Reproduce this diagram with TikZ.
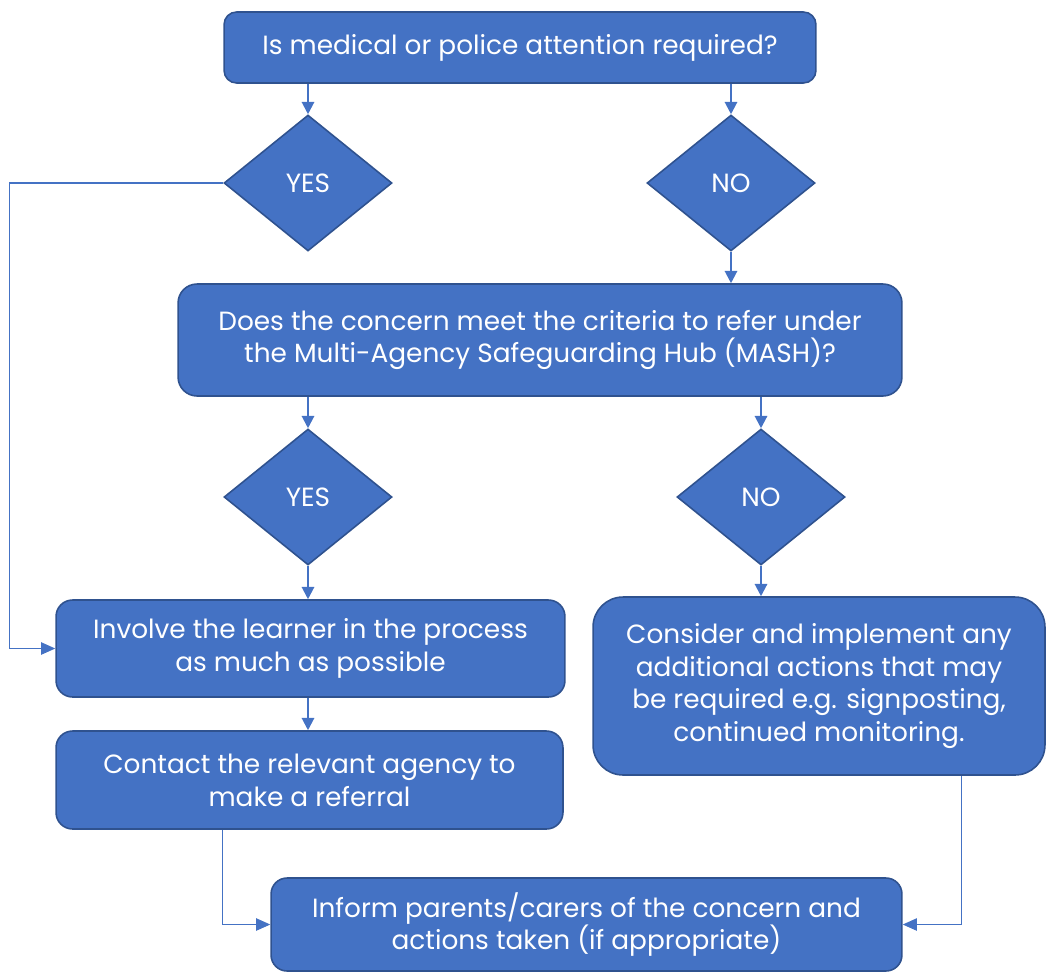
\documentclass[tikz,border=0pt]{standalone}
\usepackage{fontspec}
\setmainfont{Poppins}
\usetikzlibrary{arrows.meta,shapes.geometric}
\definecolor{boxblue}{HTML}{4472C4}
\definecolor{edgeblue}{HTML}{2F528F}

\begin{document}
\begin{tikzpicture}[x=0.02cm,y=-0.02cm]
		\tikzstyle{rect} = [rectangle, fill=boxblue, draw=edgeblue, line width=0.9pt, text=white, align=center, font=\fontsize{15}{18.7}\selectfont]
		\tikzstyle{decision} = [diamond, fill=boxblue, draw=edgeblue, line width=0.9pt, text=white, inner sep=0pt, minimum width=3.36cm, minimum height=2.72cm, font=\fontsize{15}{18.7}\selectfont]
		\tikzstyle{arrow} = [boxblue, line width=1.2pt, -{Triangle[length=7pt,width=7pt]}]
		\tikzstyle{elbow} = [boxblue, line width=0.6pt, -{Triangle[length=8pt,width=7pt]}]
		\useasboundingbox (0,0) rectangle (1047,974);
		\node (question) [rect, rounded corners=0.25cm, minimum width=11.84cm, minimum height=1.42cm] at (520,47.5) {Is medical or police attention required?};
		\node (yesA) [decision] at (308,183) {YES};
		\node (noA) [decision] at (731,183) {NO};
		\node (mash) [rect, rounded corners=0.38cm, minimum width=14.48cm, minimum height=2.24cm] at (540,340) {Does the concern meet the criteria to refer under\\the Multi-Agency Safeguarding Hub (MASH)?};
		\node (yesB) [decision] at (308,497) {YES};
		\node (noB) [decision] at (761,497) {NO};
		\node (involve) [rect, rounded corners=0.33cm, minimum width=10.18cm, minimum height=1.94cm] at (310.5,648.5) {Involve the learner in the process\\as much as possible};
		\node (contact) [rect, rounded corners=0.33cm, minimum width=10.14cm, minimum height=1.96cm] at (309.5,780) {Contact the relevant agency to\\make a referral};
		\node (consider) [rect, rounded corners=0.6cm, minimum width=9.04cm, minimum height=3.56cm] at (819,686) {Consider and implement any\\additional actions that may\\be required e.g. signposting,\\continued monitoring.};
		\node (inform) [rect, rounded corners=0.32cm, minimum width=12.62cm, minimum height=1.86cm] at (586.5,924.5) {Inform parents/carers of the concern and\\actions taken (if appropriate)};
		\draw [arrow] (yesA.north |- question.south) -- (yesA.north);
		\draw [arrow] (noA.north |- question.south) -- (noA.north);
		\draw [arrow] (noA.south) -- (noA.south |- mash.north);
		\draw [arrow] (yesB.north |- mash.south) -- (yesB.north);
		\draw [arrow] (noB.north |- mash.south) -- (noB.north);
		\draw [arrow] (yesB.south) -- (yesB.south |- involve.north);
		\draw [arrow] (noB.south) -- (noB.south |- consider.north);
		\draw [arrow] (yesB.south |- involve.south) -- (yesB.south |- contact.north);
		\draw [elbow] (yesA.west) -- ++(-214,0) |- (involve.west);
		\draw [elbow] ([xshift=3.34cm]contact.south west) |- (inform.west);
		\draw [elbow] ([xshift=-1.68cm]consider.south east) |- (inform.east);
	\end{tikzpicture}
\end{document}
